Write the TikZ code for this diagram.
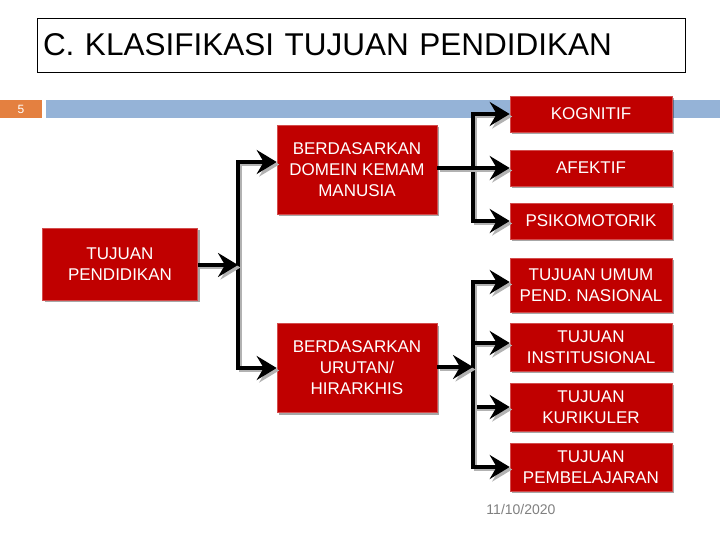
\documentclass[tikz,border=0pt]{standalone}
\usepackage{fontspec}
\setmainfont{Liberation Sans}
\usetikzlibrary{arrows.meta,shadows}
\definecolor{boxred}{RGB}{192,0,0}
\definecolor{barblue}{RGB}{149,179,215}
\definecolor{barorange}{RGB}{228,128,64}
\newcommand\shadedlink[1]{%
  \draw[link,gray!60,transform canvas={shift={(2.5pt,-2.5pt)}}] #1;
  \draw[link] #1;}

\begin{document}
\begin{tikzpicture}[x=1pt,y=-1pt,
  box/.style={fill=boxred,draw=boxred!70!white,line width=.6pt,text=white,align=center,
    font=\fontsize{17}{21}\selectfont,inner sep=2pt,minimum width=162pt,
    drop shadow={shadow xshift=2pt,shadow yshift=-2pt,fill=black,opacity=.35}},
  link/.style={line width=3.5pt,-{Stealth[length=20pt,width=24pt,inset=7pt]}}]
  \useasboundingbox (0,0) rectangle (720,540);

  % title and bars
  \node[draw,line width=.8pt,text width=636pt,inner xsep=6pt,minimum height=54pt,align=left,
    font=\fontsize{31.5}{36}\selectfont] (title) at (361,45) {C. KLASIFIKASI TUJUAN PENDIDIKAN};
  \fill[barorange] (0,100) rectangle (42,118);
  \fill[barblue] (46,100) rectangle (720,118);
  \node[white,font=\fontsize{12}{14}\selectfont] (page) at (21,109) {5};

  % boxes
  \node[box,minimum width=155pt,minimum height=72pt] (tp) at (120,264) {TUJUAN\\PENDIDIKAN};
  \node[box,minimum width=160pt,minimum height=89pt] (dom) at (357,170) {BERDASARKAN\\DOMEIN KEMAM\\MANUSIA};
  \node[box,minimum width=160pt,minimum height=89pt] (urut) at (357,368) {BERDASARKAN\\URUTAN/\\HIRARKHIS};
  \node[box,minimum height=36pt] (kog) at (591,114) {KOGNITIF};
  \node[box,minimum height=36pt] (afe) at (591,168) {AFEKTIF};
  \node[box,minimum height=36pt] (psi) at (591,221) {PSIKOMOTORIK};
  \node[box,minimum height=54pt] (umum) at (591,285) {TUJUAN UMUM\\PEND. NASIONAL};
  \node[box,minimum height=48pt] (inst) at (591,347) {TUJUAN\\INSTITUSIONAL};
  \node[box,minimum height=48pt] (kur) at (591,407) {TUJUAN\\KURIKULER};
  \node[box,minimum height=48pt] (pemb) at (591,467) {TUJUAN\\PEMBELAJARAN};

  \node[gray,font=\fontsize{14}{16}\selectfont] (date) at (521,509) {11/10/2020};

  % connectors
  \coordinate (ja) at (238,265);
  \coordinate (jb) at (473,168);
  \coordinate (jc) at (473,367);
  \shadedlink{(ja) |- ([yshift=8pt]dom.west)}
  \shadedlink{(ja) |- (urut.west)}
  \shadedlink{(tp.east |- ja) -- (ja)}
  \shadedlink{(jb) |- (kog.west)}
  \shadedlink{(jb) |- (psi.west)}
  \shadedlink{(dom.east |- afe.west) -- (afe.west)}
  \shadedlink{(jc) |- ([yshift=3pt]umum.west)}
  \shadedlink{(jc) |- ([yshift=4pt]inst.west)}
  \shadedlink{(jc) |- (kur.west)}
  \shadedlink{(jc) |- (pemb.west)}
  \shadedlink{(urut.east |- jc) -- (jc)}
\end{tikzpicture}
\end{document}
